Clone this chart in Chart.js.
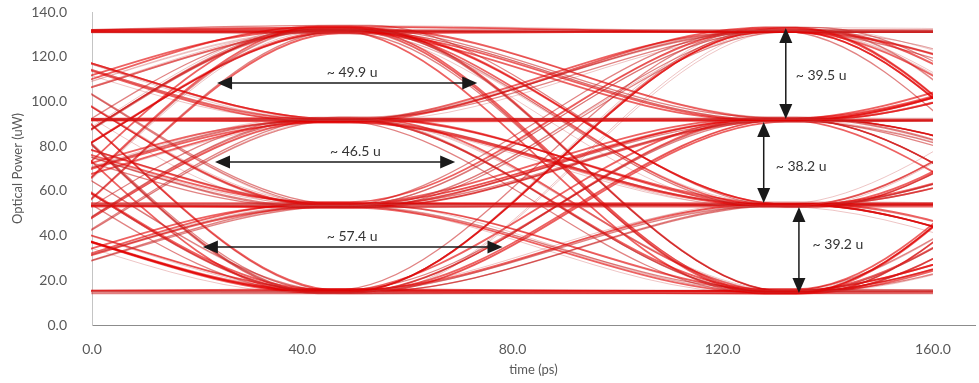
<!DOCTYPE html>
<html>
<head>
<meta charset="utf-8">
<script src="https://cdn.jsdelivr.net/npm/chart.js@4.4.1/dist/chart.umd.min.js"></script>
<style>
  html, body { margin: 0; padding: 0; background: #fff; }
</style>
</head>
<body>
<canvas id="eye" width="979" height="383"></canvas>
<script>
// sample instants (ps): each symbol level is held over a short window around the eye centre
const sampleTimes = [-42, -36, 43, 49, 128, 134, 213, 219];
const sampleTimesLate = [-38, -32, 47, 53, 132, 138, 217, 223];
const sampleTimesEarly = [-46, -40, 40, 46, 125, 131, 210, 216];
const traceEnd = 160;

// levels seen at the four symbol instants of each captured trace (uW)
const traces = [
  [15, 133.5, 131, 92], [54, 132, 92, 15], [92, 131, 53.5, 131], [131, 133, 15, 54],
  [53.5, 131.5, 131, 131], [15, 132, 92, 92], [92, 133.5, 54, 15], [131, 130.5, 14.5, 92],
  [54, 134, 131.5, 54], [131, 131, 91.5, 131], [15, 132.5, 53, 92], [92, 131.5, 15.5, 15],
  [131, 131.5, 131, 15], [53, 133, 93, 54], [15, 131, 55, 54], [54, 132, 14, 131],
  [15, 92, 131, 131], [131, 91.5, 92, 15], [54, 90.5, 53.5, 92], [92, 92, 15, 54],
  [131, 92.5, 132, 54], [15, 91, 91.5, 131], [92, 91.5, 54, 15], [54, 93, 14.5, 92],
  [92, 91, 133, 15], [54, 92, 92.5, 54], [15, 90.5, 52.5, 131], [131, 92, 16, 131],
  [54, 91.5, 131.5, 92], [92, 92, 91, 92], [131, 91, 54, 54], [15, 92.5, 15, 15],
  [15, 53.5, 131, 92], [131, 54, 92, 131], [92, 52.5, 54, 15], [54, 53.5, 15, 54],
  [92, 55, 132.5, 15], [15, 53, 91, 54], [131, 54, 53, 92], [54, 52.5, 14.5, 131],
  [131, 53.5, 131, 131], [92, 54, 92.5, 92], [15, 54.5, 53.5, 131], [92, 53, 16, 15],
  [54, 53.5, 133, 54], [15, 52.5, 92, 15], [54, 54, 54, 54], [131, 55, 15, 92],
  [54, 15, 131, 54], [131, 14.5, 92, 15], [15, 15, 53.5, 131], [92, 16, 15, 92],
  [131, 15, 132, 131], [92, 14.5, 91.5, 54], [54, 15.5, 54, 15], [131, 14, 14.5, 131],
  [15, 15, 133.5, 92], [54, 14.5, 92.5, 131], [92, 15, 53, 92], [15, 15, 15, 15],
  [92, 15, 131, 15], [131, 16, 91, 92], [131, 14.5, 55, 54], [54, 15, 14, 54],
  [132, 132, 132, 132], [131, 131, 131, 131], [91.5, 91.5, 91.5, 91.5],
  [53.5, 53.5, 53.5, 53.5], [14.5, 14.5, 14.5, 14.5]
];

// second capture, slightly later phase
const tracesLate = [
  [131, 132.5, 92, 54], [15, 131.5, 15, 131], [92, 133, 131, 92], [54, 131, 54, 15],
  [131, 134, 53, 131], [92, 132, 92.5, 131], [15, 130.5, 131.5, 54], [54, 131, 15, 92],
  [131, 91.5, 131, 92], [54, 92, 54, 131], [15, 91.5, 92, 54], [131, 90.5, 15, 54],
  [92, 92.5, 53, 131], [15, 93, 132, 15], [54, 91, 15.5, 15], [131, 92, 92, 131],
  [131, 53, 92, 54], [54, 54.5, 131.5, 131], [92, 53.5, 15, 131], [15, 54, 54, 92],
  [131, 52.5, 53.5, 15], [54, 53, 91.5, 92], [92, 54, 133, 54], [15, 53.5, 14.5, 15],
  [131, 15.5, 15, 92], [92, 15, 54, 54], [54, 14, 131.5, 15], [15, 16, 92, 131],
  [131, 15, 53.5, 54], [92, 14.5, 133, 131], [54, 15, 91, 92], [15, 14.5, 15.5, 54],
  [92, 131.5, 131, 54], [131, 92, 14.5, 15], [15, 53, 131, 131], [54, 15, 92, 92],
  [92, 132, 15, 15], [131, 54, 92, 54], [15, 92, 53.5, 54], [54, 131.5, 54, 92],
  [131.5, 131.5, 131.5, 131.5], [92, 92, 92, 92], [53, 53, 53, 53], [15.5, 15.5, 15.5, 15.5]
];

// third capture, slightly earlier phase
const tracesEarly = [
  [15, 132, 15, 54], [54, 131, 131.5, 92], [131, 133, 54, 131], [92, 131.5, 92, 15],
  [15, 91.5, 15, 92], [131, 92, 53.5, 54], [54, 91, 131, 131], [92, 92.5, 92, 54],
  [131, 54, 14.5, 92], [15, 53.5, 92, 131], [92, 53, 131.5, 15], [54, 54, 53.5, 54],
  [131, 15, 15, 54], [92, 15.5, 131, 131], [54, 14.5, 53, 15], [15, 15, 91.5, 92],
  [131, 131, 131, 131], [92.5, 92.5, 92.5, 92.5], [54.5, 54.5, 54.5, 54.5], [14, 14, 14, 14]
];

const xTicks = [0, 40, 80, 120, 160];
const yTicks = [0, 20, 40, 60, 80, 100, 120, 140];

// eye opening markers (data coordinates)
const arrowLabels = ['~ 49.9 u', '~ 46.5 u', '~ 57.4 u', '~ 39.5 u', '~ 38.2 u', '~ 39.2 u'];
const arrowStart = [[23.8, 108.2], [23.4, 72.9], [21.1, 34.9], [132, 132.8], [127.8, 90.8], [134.5, 52.8]];
const arrowEnd = [[73.3, 108.2], [69.1, 72.9], [78.1, 34.9], [132, 92.1], [127.8, 54.6], [134.5, 14.3]];
const labelAt = [[49.5, 113.1], [50.1, 77.4], [49.5, 39.8], [133.9, 111.8], [130.1, 71.1], [137.1, 35.8]];

const traceStyles = [
  { color: 'rgba(226,0,0,0.62)', width: 1.8 },
  { color: 'rgba(200,30,30,0.55)', width: 1.3 },
  { color: 'rgba(205,90,90,0.35)', width: 1 }
];

function makeSet(set, times) {
  return set.map((tr, i) => {
    const st = traceStyles[i % 3];
    return {
      data: times.map((t, k) => ({ x: t, y: tr[k >> 1] })),
      borderColor: st.color,
      borderWidth: st.width,
      pointRadius: 0,
      pointHoverRadius: 0,
      cubicInterpolationMode: 'monotone',
      fill: false
    };
  });
}

const datasets = makeSet(traces, sampleTimes)
  .concat(makeSet(tracesLate, sampleTimesLate))
  .concat(makeSet(tracesEarly, sampleTimesEarly));

function drawHead(ctx, tx, ty, ang) {
  const len = 15, half = 6.5;
  const bx = tx - len * Math.cos(ang), by = ty - len * Math.sin(ang);
  ctx.beginPath();
  ctx.moveTo(tx, ty);
  ctx.lineTo(bx - half * Math.sin(ang), by + half * Math.cos(ang));
  ctx.lineTo(bx + half * Math.sin(ang), by - half * Math.cos(ang));
  ctx.closePath();
  ctx.fill();
}

const eyeMarks = {
  id: 'eyeMarks',
  beforeDatasetsDraw(chart) {
    const { ctx, chartArea, scales: { x } } = chart;
    ctx.save();
    ctx.beginPath();
    ctx.rect(chartArea.left - 1, 0, x.getPixelForValue(traceEnd) - chartArea.left + 1, chart.height);
    ctx.clip();
  },
  afterDatasetsDraw(chart) {
    const { ctx, scales: { x, y } } = chart;
    ctx.restore();
    ctx.save();
    ctx.strokeStyle = '#1a1a1a';
    ctx.fillStyle = '#1a1a1a';
    ctx.lineWidth = 1.5;
    arrowStart.forEach((s, i) => {
      const x1 = x.getPixelForValue(s[0]), y1 = y.getPixelForValue(s[1]);
      const x2 = x.getPixelForValue(arrowEnd[i][0]), y2 = y.getPixelForValue(arrowEnd[i][1]);
      const ang = Math.atan2(y2 - y1, x2 - x1);
      ctx.beginPath();
      ctx.moveTo(x1 + 12 * Math.cos(ang), y1 + 12 * Math.sin(ang));
      ctx.lineTo(x2 - 12 * Math.cos(ang), y2 - 12 * Math.sin(ang));
      ctx.stroke();
      drawHead(ctx, x1, y1, ang + Math.PI);
      drawHead(ctx, x2, y2, ang);
    });
    ctx.font = '14px Lato';
    ctx.fillStyle = '#333';
    ctx.textBaseline = 'middle';
    arrowLabels.forEach((txt, i) => {
      const horizontal = arrowStart[i][1] === arrowEnd[i][1];
      ctx.textAlign = horizontal ? 'center' : 'left';
      ctx.fillText(txt, x.getPixelForValue(labelAt[i][0]), y.getPixelForValue(labelAt[i][1]));
    });
    ctx.restore();
  }
};

new Chart(document.getElementById('eye'), {
  type: 'line',
  data: { datasets },
  plugins: [eyeMarks],
  options: {
    responsive: false,
    animation: false,
    devicePixelRatio: 1,
    layout: { padding: { top: 12, right: 4, left: 0, bottom: 0 } },
    plugins: { legend: { display: false }, tooltip: { enabled: false } },
    scales: {
      x: {
        type: 'linear',
        afterBuildTicks: s => { s.min = 0; s.max = 168; s.ticks = xTicks.map(v => ({ value: v })); },
        afterFit: s => { s.height = 58; },
        grid: { display: false, drawTicks: false },
        border: { display: true, color: '#8c8c8c', width: 1 },
        ticks: { padding: 16, color: '#595959', font: { family: 'Lato', size: 14 }, maxRotation: 0,
                 callback: v => v.toFixed(1) },
        title: { display: true, text: 'time (ps)', color: '#595959',
                 font: { family: 'Lato', size: 13 }, padding: { top: 0, bottom: 5 } }
      },
      y: {
        min: 0,
        max: 140,
        afterBuildTicks: s => { s.min = 0; s.max = 140; s.ticks = yTicks.map(v => ({ value: v })); },
        afterFit: s => { s.width = 92; },
        grid: { display: false, drawTicks: true, tickLength: 22 },
        border: { display: true, color: '#c4c4c4', width: 1 },
        ticks: { padding: 3, color: '#595959', font: { family: 'Lato', size: 14 },
                 callback: v => v.toFixed(1) },
        title: { display: true, text: 'Optical Power (uW)', color: '#595959',
                 font: { family: 'Lato', size: 13 }, padding: { top: 10, bottom: 0 } }
      }
    }
  }
});
</script>
</body>
</html>
